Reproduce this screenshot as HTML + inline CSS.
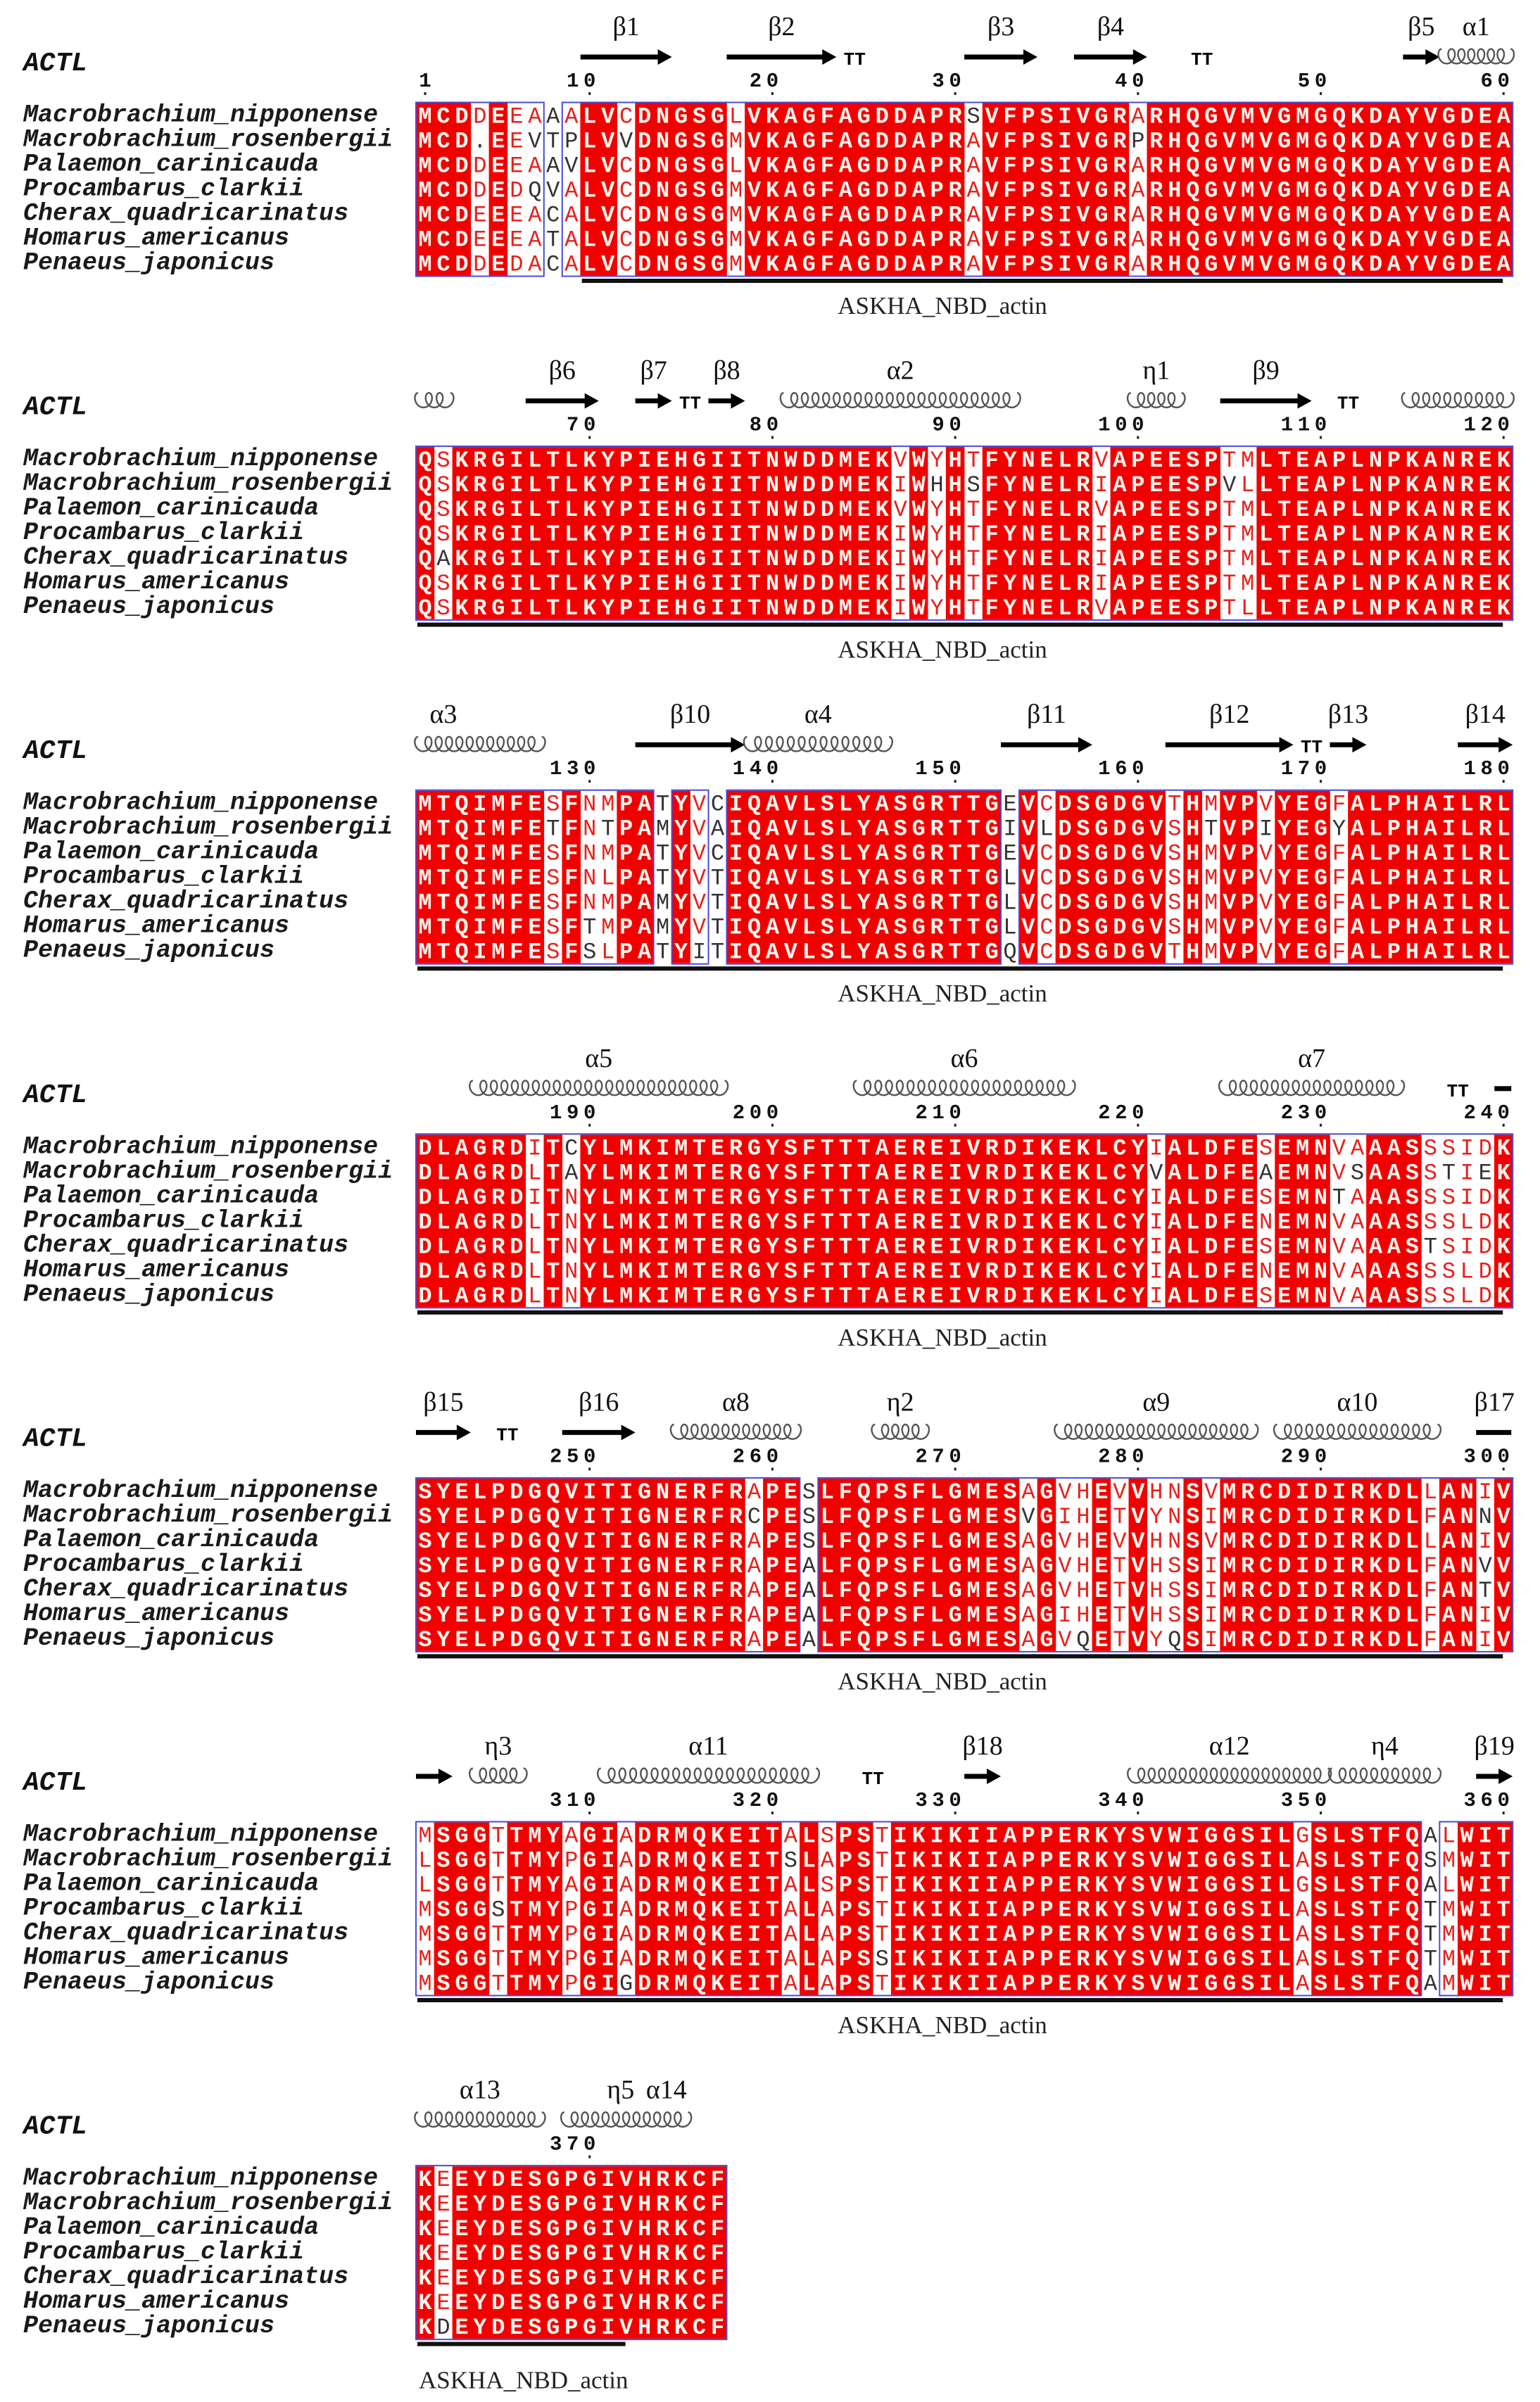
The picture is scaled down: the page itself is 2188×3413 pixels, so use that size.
<!DOCTYPE html>
<html>
<head>
<meta charset="utf-8">
<style>
  html,body{margin:0;padding:0;background:#fff;}
  #chart{display:block;}
</style>
</head>
<body>
<svg id="chart" xmlns="http://www.w3.org/2000/svg" width="2188" height="3413" viewBox="0 0 2188 3413">
  <rect x="0" y="0" width="2188" height="3413" fill="#ffffff"/>
</svg>
<script>
// ---------------- data ----------------
const seqNames = ["Macrobrachium_nipponense","Macrobrachium_rosenbergii","Palaemon_carinicauda","Procambarus_clarkii","Cherax_quadricarinatus","Homarus_americanus","Penaeus_japonicus"];
const blockStarts = [1,61,121,181,241,301,361];
const block1Seqs = [
 "MCDDEEAAALVCDNGSGLVKAGFAGDDAPRSVFPSIVGRARHQGVMVGMGQKDAYVGDEA",
 "MCD.EEVTPLVVDNGSGMVKAGFAGDDAPRAVFPSIVGRPRHQGVMVGMGQKDAYVGDEA",
 "MCDDEEAAVLVCDNGSGLVKAGFAGDDAPRAVFPSIVGRARHQGVMVGMGQKDAYVGDEA",
 "MCDDEDQVALVCDNGSGMVKAGFAGDDAPRAVFPSIVGRARHQGVMVGMGQKDAYVGDEA",
 "MCDEEEACALVCDNGSGMVKAGFAGDDAPRAVFPSIVGRARHQGVMVGMGQKDAYVGDEA",
 "MCDEEEATALVCDNGSGMVKAGFAGDDAPRAVFPSIVGRARHQGVMVGMGQKDAYVGDEA",
 "MCDDEDACALVCDNGSGMVKAGFAGDDAPRAVFPSIVGRARHQGVMVGMGQKDAYVGDEA"];
const block2Seqs = [
 "QSKRGILTLKYPIEHGIITNWDDMEKVWYHTFYNELRVAPEESPTMLTEAPLNPKANREK",
 "QSKRGILTLKYPIEHGIITNWDDMEKIWHHSFYNELRIAPEESPVLLTEAPLNPKANREK",
 "QSKRGILTLKYPIEHGIITNWDDMEKVWYHTFYNELRVAPEESPTMLTEAPLNPKANREK",
 "QSKRGILTLKYPIEHGIITNWDDMEKIWYHTFYNELRIAPEESPTMLTEAPLNPKANREK",
 "QAKRGILTLKYPIEHGIITNWDDMEKIWYHTFYNELRIAPEESPTMLTEAPLNPKANREK",
 "QSKRGILTLKYPIEHGIITNWDDMEKIWYHTFYNELRIAPEESPTMLTEAPLNPKANREK",
 "QSKRGILTLKYPIEHGIITNWDDMEKIWYHTFYNELRVAPEESPTLLTEAPLNPKANREK"];
const block3Seqs = [
 "MTQIMFESFNMPATYVCIQAVLSLYASGRTTGEVCDSGDGVTHMVPVYEGFALPHAILRL",
 "MTQIMFETFNTPAMYVAIQAVLSLYASGRTTGIVLDSGDGVSHTVPIYEGYALPHAILRL",
 "MTQIMFESFNMPATYVCIQAVLSLYASGRTTGEVCDSGDGVSHMVPVYEGFALPHAILRL",
 "MTQIMFESFNLPATYVTIQAVLSLYASGRTTGLVCDSGDGVSHMVPVYEGFALPHAILRL",
 "MTQIMFESFNMPAMYVTIQAVLSLYASGRTTGLVCDSGDGVSHMVPVYEGFALPHAILRL",
 "MTQIMFESFTMPAMYVTIQAVLSLYASGRTTGLVCDSGDGVSHMVPVYEGFALPHAILRL",
 "MTQIMFESFSLPATYITIQAVLSLYASGRTTGQVCDSGDGVTHMVPVYEGFALPHAILRL"];
const block4Seqs = [
 "DLAGRDITCYLMKIMTERGYSFTTTAEREIVRDIKEKLCYIALDFESEMNVAAASSSIDK",
 "DLAGRDLTAYLMKIMTERGYSFTTTAEREIVRDIKEKLCYVALDFEAEMNVSAASSTIEK",
 "DLAGRDITNYLMKIMTERGYSFTTTAEREIVRDIKEKLCYIALDFESEMNTAAASSSIDK",
 "DLAGRDLTNYLMKIMTERGYSFTTTAEREIVRDIKEKLCYIALDFENEMNVAAASSSLDK",
 "DLAGRDLTNYLMKIMTERGYSFTTTAEREIVRDIKEKLCYIALDFESEMNVAAASTSIDK",
 "DLAGRDLTNYLMKIMTERGYSFTTTAEREIVRDIKEKLCYIALDFENEMNVAAASSSLDK",
 "DLAGRDLTNYLMKIMTERGYSFTTTAEREIVRDIKEKLCYIALDFESEMNVAAASSSLDK"];
const block5Seqs = [
 "SYELPDGQVITIGNERFRAPESLFQPSFLGMESAGVHEVVHNSVMRCDIDIRKDLLANIV",
 "SYELPDGQVITIGNERFRCPESLFQPSFLGMESVGIHETVYNSIMRCDIDIRKDLFANNV",
 "SYELPDGQVITIGNERFRAPESLFQPSFLGMESAGVHEVVHNSVMRCDIDIRKDLLANIV",
 "SYELPDGQVITIGNERFRAPEALFQPSFLGMESAGVHETVHSSIMRCDIDIRKDLFANVV",
 "SYELPDGQVITIGNERFRAPEALFQPSFLGMESAGVHETVHSSIMRCDIDIRKDLFANTV",
 "SYELPDGQVITIGNERFRAPEALFQPSFLGMESAGIHETVHSSIMRCDIDIRKDLFANIV",
 "SYELPDGQVITIGNERFRAPEALFQPSFLGMESAGVQETVYQSIMRCDIDIRKDLFANIV"];
const block6Seqs = [
 "MSGGTTMYAGIADRMQKEITALSPSTIKIKIIAPPERKYSVWIGGSILGSLSTFQALWIT",
 "LSGGTTMYPGIADRMQKEITSLAPSTIKIKIIAPPERKYSVWIGGSILASLSTFQSMWIT",
 "LSGGTTMYAGIADRMQKEITALSPSTIKIKIIAPPERKYSVWIGGSILGSLSTFQALWIT",
 "MSGGSTMYPGIADRMQKEITALAPSTIKIKIIAPPERKYSVWIGGSILASLSTFQTMWIT",
 "MSGGTTMYPGIADRMQKEITALAPSTIKIKIIAPPERKYSVWIGGSILASLSTFQTMWIT",
 "MSGGTTMYPGIADRMQKEITALAPSSIKIKIIAPPERKYSVWIGGSILASLSTFQTMWIT",
 "MSGGTTMYPGIGDRMQKEITALAPSTIKIKIIAPPERKYSVWIGGSILASLSTFQAMWIT"];
const block7Seqs = [
 "KEEYDESGPGIVHRKCF","KEEYDESGPGIVHRKCF","KEEYDESGPGIVHRKCF","KEEYDESGPGIVHRKCF",
 "KEEYDESGPGIVHRKCF","KEEYDESGPGIVHRKCF","KDEYDESGPGIVHRKCF"];
const blockSeqs = [block1Seqs,block2Seqs,block3Seqs,block4Seqs,block5Seqs,block6Seqs,block7Seqs];
// R = strictly conserved (red box), S = similar (red letters), N = not conserved
const colClasses = [
 "RRRSRSSNSRRSRRRRRSRRRRRRRRRRRRSRRRRRRRRSRRRRRRRRRRRRRRRRRRRR",
 "RSRRRRRRRRRRRRRRRRRRRRRRRRSRSRSRRRRRRSRRRRRRSSRRRRRRRRRRRRRR",
 "RRRRRRRSRSSRRNRSNRRRRRRRRRRRRRRRNRSRRRRRRSRSRRSRRRSRRRRRRRRR",
 "RRRRRRSRSRRRRRRRRRRRRRRRRRRRRRRRRRRRRRRRSRRRRRSRRRSSRRRSSSSR",
 "RRRRRRRRRRRRRRRRRRSRRNRRRRRRRRRRRSRSSRSRSSRSRRRRRRRRRRRSRRSR",
 "SRRRSRRRSRRSRRRRRRRRSRSRRSRRRRRRRRRRRRRRRRRRRRRRSRRRRRRNSRRR",
 "RSRRRRRRRRRRRRRRR"];
const ssBlock1 = [["arrow",10,14,"β1"],["arrow",18,23,"β2"],["tt",24,25,""],["arrow",31,34,"β3"],["arrow",37,40,"β4"],["tt",43,44,""],["arrow",55,56,"β5"],["helix",57,60,"α1"]];
const ssBlock2 = [["helix",1,2,""],["arrow",7,10,"β6"],["arrow",13,14,"β7"],["tt",15,16,""],["arrow",17,18,"β8"],["helix",21,33,"α2"],["helix",40,42,"η1"],["arrow",45,49,"β9"],["tt",51,52,""],["helix",55,60,""]];
const ssBlock3 = [["helix",1,7,""],["label",2,2,"α3"],["arrow",13,18,"β10"],["helix",19,26,"α4"],["arrow",33,37,"β11"],["arrow",42,48,"β12"],["tt",49,50,""],["arrow",51,52,"β13"],["arrow",58,60,"β14"]];
const ssBlock4 = [["helix",4,17,"α5"],["helix",25,36,"α6"],["helix",45,54,"α7"],["tt",57,58,""],["bar",60,60,""]];
const ssBlock5 = [["arrow",1,3,"β15"],["tt",5,6,""],["arrow",9,12,"β16"],["helix",15,21,"α8"],["helix",26,28,"η2"],["helix",36,46,"α9"],["helix",48,56,"α10"],["bar",59,60,"β17"]];
const ssBlock6 = [["arrow",1,2,""],["helix",4,6,"η3"],["helix",11,22,"α11"],["tt",25,26,""],["arrow",31,32,"β18"],["helix",40,50,"α12"],["helix",51,56,"η4"],["arrow",59,60,"β19"]];
const ssBlock7 = [["helix",1,7,"α13"],["helix",9,15,""],["label",11.7,11.7,"η5"],["label",14.2,14.2,"α14"]];
const ssBlocks = [ssBlock1,ssBlock2,ssBlock3,ssBlock4,ssBlock5,ssBlock6,ssBlock7];
const domainBars = [[10,60],[1,60],[1,60],[1,60],[1,60],[1,60],[1,12]];
const domainName = "ASKHA_NBD_actin";

// ---------------- layout ----------------
const SVGNS = "http://www.w3.org/2000/svg";
const svg = document.getElementById("chart");
const X0 = 591, CW = 25.97, BLOCK_H = 488.6, ROW_H = 35, ROW_TOP = 146.5;
function colLeft(c){ return X0 + (c-1)*CW; }
function colCenter(c){ return X0 + (c-0.5)*CW; }
function mk(tag, attrs, parent){
  const el = document.createElementNS(SVGNS, tag);
  for (const k in attrs) el.setAttribute(k, attrs[k]);
  (parent||svg).appendChild(el);
  return el;
}
function helixPath(x1, x2, yc){
  const n = Math.max(1, Math.round((x2-x1)/15));
  const d = 8;
  const r = (x2-x1)/(n*2*Math.PI);
  let p = "";
  const steps = n*28;
  for (let i=0;i<=steps;i++){
    const t = i/steps*n*2*Math.PI;
    const x = x1 + r*t - d*Math.sin(t);
    const y = yc + 8 - 1.3*d*Math.cos(t);
    p += (i===0?"M":"L") + x.toFixed(1) + "," + y.toFixed(1);
  }
  return p;
}

blockSeqs.forEach((rows, b) => {
  const off = b*BLOCK_H;
  const g = mk("g", {});
  
  
  const nCols = rows[0].length;
  const cls = colClasses[b];
  const top = off + ROW_TOP, bottom = top + rows.length*ROW_H;

  const t = mk("text", {x:33, y:off+100, "font-family":"Liberation Mono, monospace", "font-weight":"bold", "font-style":"italic", "font-size":38, fill:"#111"}, g);
  t.textContent = "ACTL";
  
  

  ssBlocks[b].forEach(item => {
    const [type, a, z, label] = item;
    const x1 = colLeft(a), x2 = colLeft(z)+CW;
    if (type === "arrow"){
      const hl = Math.min(20, (x2-x1)*0.5);
      const p = mk("path", {d:`M${x1},${off+77.5} L${x2-hl},${off+77.5} L${x2-hl},${off+70} L${x2},${off+81} L${x2-hl},${off+92} L${x2-hl},${off+84.5} L${x1},${off+84.5} Z`, fill:"#000"}, g);
      
      
    } else if (type === "bar"){
      const p = mk("rect", {x:x1, y:off+77.5, width:x2-x1-2, height:7, fill:"#000"}, g);
      
      
    } else if (type === "helix"){
      const p = mk("path", {d:helixPath(x1+3, x2-3, off+72), fill:"none", stroke:"#555", "stroke-width":2.4}, g);
      
      
    } else if (type === "tt"){
      const tt = mk("text", {x:(x1+x2)/2, y:off+92, "text-anchor":"middle", "font-family":"Liberation Mono, monospace", "font-weight":"bold", "font-size":26, fill:"#000"}, g);
      tt.textContent = "TT";
      
      
    }
    if (label){
      const lx = type === "label" ? colCenter(a) : (x1+x2)/2;
      const lt = mk("text", {x:lx, y:off+50, "text-anchor":"middle", "font-family":"Liberation Serif, serif", "font-size":38, fill:"#111"}, g);
      lt.textContent = label;
      
      
    }
  });

  for (let c=1;c<=nCols;c++){
    const pos = blockStarts[b] + c - 1;
    if (pos === 1 || pos % 10 === 0){
      const s = String(pos);
      for (let i=0;i<s.length;i++){
        const dx = colCenter(c) - (s.length-1-i)*24;
        const dt = mk("text", {x:dx, y:off+123, "text-anchor":"middle", "font-family":"Liberation Mono, monospace", "font-weight":"bold", "font-size":29, fill:"#111"}, g);
        dt.textContent = s[i];
        
        
      }
      const dot = mk("rect", {x:colCenter(c)-1.5, y:off+131, width:3, height:4, fill:"#222"}, g);
      
      
    }
  }

  seqNames.forEach((nm, r) => {
    const nt = mk("text", {x:33, y:top + r*ROW_H + 26, "font-family":"Liberation Mono, monospace", "font-weight":"bold", "font-style":"italic", "font-size":35, fill:"#1a1a1a"}, g);
    nt.textContent = nm;
    
    
  });

  for (let c=1;c<=nCols;c++){
    if (cls[c-1] === "R"){
      const rc = mk("rect", {x:colLeft(c)-0.3, y:top, width:CW+0.6, height:bottom-top, fill:"#f20000"}, g);
      
      
    }
  }
  let c = 1;
  while (c <= nCols){
    if (cls[c-1] === "N"){ c++; continue; }
    let e = c;
    while (e+1 <= nCols && cls[e] !== "N") e++;
    const fr = mk("rect", {x:colLeft(c), y:top-1, width:(e-c+1)*CW, height:bottom-top+2, fill:"none", stroke:"#4a4ad8", "stroke-width":2}, g);
    
    
    c = e+1;
  }
  for (let col=1; col<=nCols; col++){
    const letters = rows.map(s => s[col-1]);
    const counts = {};
    letters.forEach(l => counts[l] = (counts[l]||0)+1);
    rows.forEach((s, r) => {
      const ch = s[col-1];
      let fill;
      if (cls[col-1] === "R") fill = "#fff6f0";
      else if (cls[col-1] === "S") fill = counts[ch] >= 2 ? "#e8201a" : "#333";
      else fill = "#333";
      const rt = mk("text", {x:colCenter(col), y:top + r*ROW_H + 28, "text-anchor":"middle", "font-family":"Liberation Mono, monospace", "font-weight": cls[col-1]==="R" ? "bold" : "normal", "font-size":32, fill:fill}, g);
      rt.textContent = ch;
      
      
    });
  }

  const [ba, bz] = domainBars[b];
  const bx1 = colLeft(ba) + 2, bx2 = colLeft(bz) + CW - 14;
  const bar = mk("rect", {x:bx1, y:off+396, width:bx2-bx1, height:6, fill:"#111"}, g);
  
  
  const lab = mk("text", {x: b===6 ? colLeft(1)+4 : 1339, y:off + (b===6 ? 462 : 446), "text-anchor": b===6 ? "start" : "middle", "font-family":"Liberation Serif, serif", "font-size":35, fill:"#222"}, g);
  lab.textContent = domainName;
  
  
});
</script>
</body>
</html>
